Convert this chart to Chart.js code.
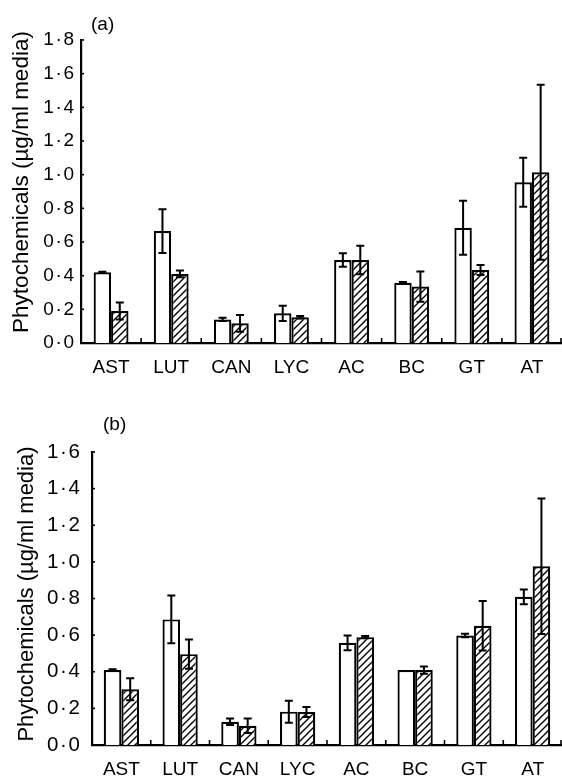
<!DOCTYPE html>
<html>
<head>
<meta charset="utf-8">
<script src="https://cdn.jsdelivr.net/npm/chart.js@4.4.1/dist/chart.umd.min.js"></script>
<style>
  html, body { margin: 0; padding: 0; background: #fff; }
  #wrap { position: relative; width: 562px; height: 778px; overflow: hidden; }
  canvas { position: absolute; left: 0; }
  #cA { top: 0; }
  #cB { top: 390px; }
</style>
</head>
<body>
<div id="wrap">
  <canvas id="cA" width="562" height="390"></canvas>
  <canvas id="cB" width="562" height="388"></canvas>
</div>
<script>
// ---- Data ----
const categories = ['AST', 'LUT', 'CAN', 'LYC', 'AC', 'BC', 'GT', 'AT'];

const panelA_open       = [0.42, 0.665, 0.14, 0.176, 0.493, 0.358, 0.685, 0.955];
const panelA_open_err   = [0.003, 0.13, 0.01, 0.045, 0.04, 0.004, 0.16, 0.145];
const panelA_hatched     = [0.19, 0.41, 0.117, 0.153, 0.493, 0.335, 0.434, 1.014];
const panelA_hatched_err = [0.05, 0.02, 0.05, 0.008, 0.085, 0.09, 0.03, 0.52];

const panelB_open       = [0.409, 0.686, 0.127, 0.182, 0.558, 0.409, 0.598, 0.809];
const panelB_open_err   = [0.004, 0.13, 0.018, 0.06, 0.04, 0.0, 0.01, 0.04];
const panelB_hatched     = [0.304, 0.496, 0.105, 0.18, 0.589, 0.409, 0.651, 0.976];
const panelB_hatched_err = [0.06, 0.08, 0.04, 0.027, 0.006, 0.02, 0.135, 0.37];

const panelA_max = 1.8;
const panelB_max = 1.6;
const tickStep = 0.2;
const yTitle = 'Phytochemicals (\u00b5g/ml media)';

// ---- Helpers ----
const FONT = '"Liberation Sans", Arial, Helvetica, sans-serif';

function hatchPattern() {
  const s = 7;
  const c = document.createElement('canvas');
  c.width = s; c.height = s;
  const g = c.getContext('2d');
  g.fillStyle = '#fff';
  g.fillRect(0, 0, s, s);
  g.strokeStyle = '#000';
  g.lineWidth = 1.4;
  g.beginPath();
  g.moveTo(0, s); g.lineTo(s, 0);
  g.moveTo(-s / 2, s / 2); g.lineTo(s / 2, -s / 2);
  g.moveTo(s / 2, s * 1.5); g.lineTo(s * 1.5, s / 2);
  g.stroke();
  return document.createElement('canvas').getContext('2d').createPattern(c, 'repeat');
}

function fmt(v) {
  return (Math.round(v * 10) / 10).toFixed(1).replace('.', '\u200a\u00b7\u200a');
}

const decorPlugin = {
  id: 'decor',
  afterDatasetsDraw(chart, args, opts) {
    const ctx = chart.ctx;
    const x = chart.scales.x, y = chart.scales.y;
    ctx.save();
    // error bars
    ctx.strokeStyle = '#000';
    ctx.lineWidth = 2;
    chart.data.datasets.forEach((ds, di) => {
      const meta = chart.getDatasetMeta(di);
      meta.data.forEach((bar, i) => {
        const v = ds.data[i], e = ds.err[i];
        if (!e) return;
        const yt = y.getPixelForValue(v + e);
        const yb = y.getPixelForValue(v - e);
        const cx = bar.x, cw = 4;
        ctx.beginPath();
        ctx.moveTo(cx, yt); ctx.lineTo(cx, yb);
        ctx.moveTo(cx - cw, yt); ctx.lineTo(cx + cw, yt);
        ctx.moveTo(cx - cw, yb); ctx.lineTo(cx + cw, yb);
        ctx.stroke();
      });
    });
    // inward y ticks
    ctx.lineWidth = 1.6;
    y.ticks.forEach(t => {
      const py = y.getPixelForValue(t.value);
      ctx.beginPath();
      ctx.moveTo(y.right, py); ctx.lineTo(y.right + 3, py);
      ctx.stroke();
    });
    // inward x ticks at category boundaries
    const n = categories.length;
    const w = (x.right - x.left) / n;
    for (let i = 1; i <= n; i++) {
      const px = x.left + i * w - (i === n ? 1 : 0);
      ctx.beginPath();
      ctx.moveTo(px, x.top); ctx.lineTo(px, x.top - 5);
      ctx.stroke();
    }
    // panel label
    ctx.fillStyle = '#000';
    ctx.font = opts.labelSize + 'px ' + FONT;
    ctx.textBaseline = 'middle';
    ctx.textAlign = 'left';
    ctx.fillText(opts.label, opts.labelX, opts.labelY);
    // y title
    ctx.translate(opts.titleX, opts.titleY);
    ctx.rotate(-Math.PI / 2);
    ctx.textAlign = 'center';
    ctx.font = opts.titleSize + 'px ' + FONT;
    ctx.fillText(yTitle, 0, 0);
    ctx.restore();
  }
};

function makeChart(id, open, openErr, hatched, hatchedErr, ymax, cfg) {
  return new Chart(document.getElementById(id), {
    type: 'bar',
    data: {
      labels: categories,
      datasets: [
        { data: open, err: openErr, backgroundColor: '#fff', borderColor: '#000', borderWidth: 2.2,
          barPercentage: 1.0, categoryPercentage: cfg.catPct },
        { data: hatched, err: hatchedErr, backgroundColor: hatchPattern(), borderColor: '#000', borderWidth: 2.2,
          barPercentage: 1.0, categoryPercentage: cfg.catPct }
      ]
    },
    options: {
      responsive: false,
      devicePixelRatio: 1,
      animation: false,
      layout: { padding: { top: cfg.top, right: 0, bottom: 0, left: 0 } },
      plugins: {
        legend: { display: false },
        tooltip: { enabled: false },
        decor: { label: cfg.label, labelX: cfg.labelX, labelY: cfg.labelY, labelSize: 19,
                 titleX: cfg.titleX, titleY: cfg.titleY, titleSize: cfg.titleSize }
      },
      scales: {
        x: {
          grid: { display: false, drawTicks: false },
          border: { display: true, color: '#000', width: 2.2 },
          ticks: { color: '#000', font: { family: FONT, size: 19 }, padding: 13, maxRotation: 0, autoSkip: false },
          afterFit(s) { s.height = cfg.xh; }
        },
        y: {
          min: 0, max: ymax,
          grid: { display: false, drawTicks: false },
          border: { display: true, color: '#000', width: 2.2 },
          ticks: { stepSize: tickStep, color: '#000', font: { family: FONT, size: cfg.ytSize }, padding: cfg.ypad,
                   callback: v => fmt(v) },
          afterFit(s) { s.width = cfg.yw; }
        }
      }
    },
    plugins: [decorPlugin]
  });
}

makeChart('cA', panelA_open, panelA_open_err, panelA_hatched, panelA_hatched_err, panelA_max,
  { top: 40, xh: 47, yw: 81, ypad: 7, ytSize: 19, catPct: 0.58,
    label: '(a)', labelX: 91, labelY: 25, titleX: 22, titleY: 182, titleSize: 22.5 });

makeChart('cB', panelB_open, panelB_open_err, panelB_hatched, panelB_hatched_err, panelB_max,
  { top: 62, xh: 33, yw: 92, ypad: 12, ytSize: 20.5, catPct: 0.6,
    label: '(b)', labelX: 103, labelY: 35, titleX: 27, titleY: 204, titleSize: 22 });
</script>
</body>
</html>
